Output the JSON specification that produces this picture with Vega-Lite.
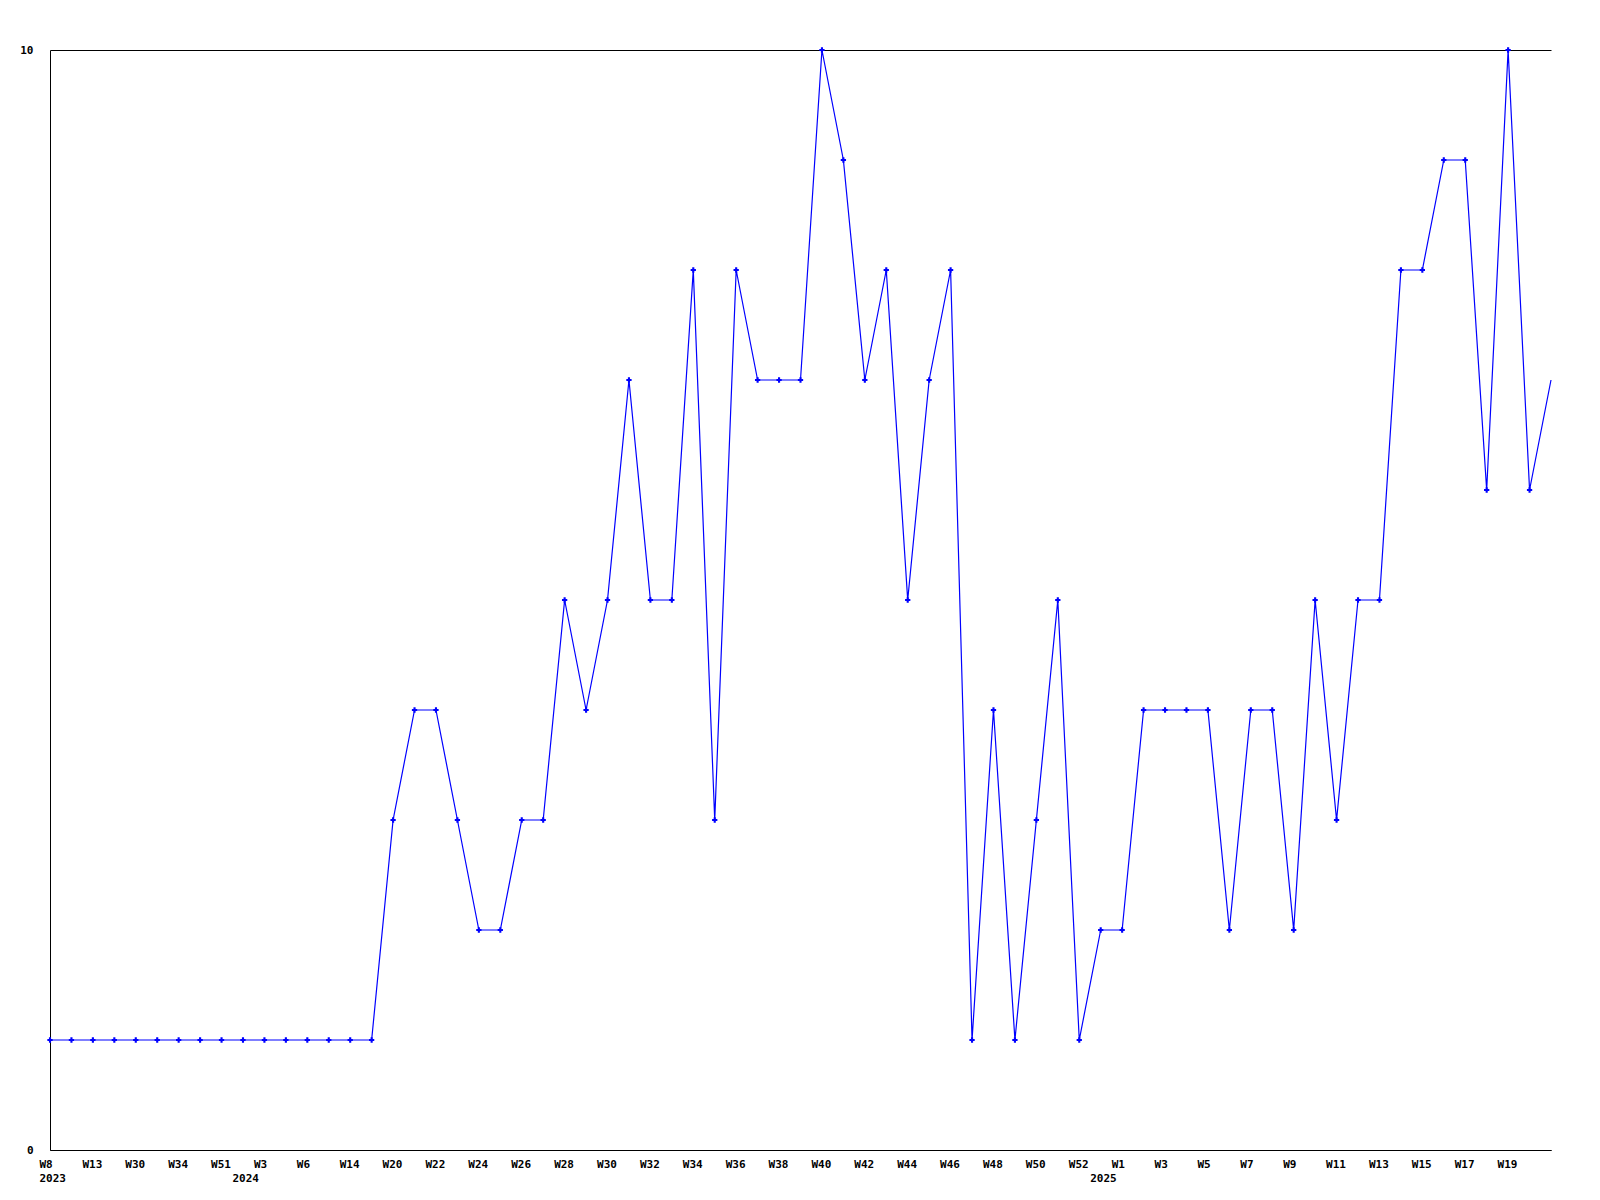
{
  "$schema": "https://vega.github.io/schema/vega-lite/v6.json",
  "autosize": {"type": "none"},
  "padding": {"left": 50, "top": 50, "right": 49, "bottom": 50},
  "width": 1501,
  "height": 1100,
  "background": "white",
  "config": {"view": {"stroke": null}},
  "data": {"values": [
    {"k": "00|W8|2023", "v": 1}, {"k": "01|W10|", "v": 1}, {"k": "02|W13|", "v": 1}, {"k": "03|W21|", "v": 1},
    {"k": "04|W30|", "v": 1}, {"k": "05|W32|", "v": 1}, {"k": "06|W34|", "v": 1}, {"k": "07|W40|", "v": 1},
    {"k": "08|W51|", "v": 1}, {"k": "09|W1|2024", "v": 1}, {"k": "10|W3|", "v": 1}, {"k": "11|W4|", "v": 1},
    {"k": "12|W6|", "v": 1}, {"k": "13|W10|", "v": 1}, {"k": "14|W14|", "v": 1}, {"k": "15|W17|", "v": 1},
    {"k": "16|W20|", "v": 3}, {"k": "17|W21|", "v": 4}, {"k": "18|W22|", "v": 4}, {"k": "19|W23|", "v": 3},
    {"k": "20|W24|", "v": 2}, {"k": "21|W25|", "v": 2}, {"k": "22|W26|", "v": 3}, {"k": "23|W27|", "v": 3},
    {"k": "24|W28|", "v": 5}, {"k": "25|W29|", "v": 4}, {"k": "26|W30|", "v": 5}, {"k": "27|W31|", "v": 7},
    {"k": "28|W32|", "v": 5}, {"k": "29|W33|", "v": 5}, {"k": "30|W34|", "v": 8}, {"k": "31|W35|", "v": 3},
    {"k": "32|W36|", "v": 8}, {"k": "33|W37|", "v": 7}, {"k": "34|W38|", "v": 7}, {"k": "35|W39|", "v": 7},
    {"k": "36|W40|", "v": 10}, {"k": "37|W41|", "v": 9}, {"k": "38|W42|", "v": 7}, {"k": "39|W43|", "v": 8},
    {"k": "40|W44|", "v": 5}, {"k": "41|W45|", "v": 7}, {"k": "42|W46|", "v": 8}, {"k": "43|W47|", "v": 1},
    {"k": "44|W48|", "v": 4}, {"k": "45|W49|", "v": 1}, {"k": "46|W50|", "v": 3}, {"k": "47|W51|", "v": 5},
    {"k": "48|W52|", "v": 1}, {"k": "49|W0|2025", "v": 2}, {"k": "50|W1|", "v": 2}, {"k": "51|W2|", "v": 4},
    {"k": "52|W3|", "v": 4}, {"k": "53|W4|", "v": 4}, {"k": "54|W5|", "v": 4}, {"k": "55|W6|", "v": 2},
    {"k": "56|W7|", "v": 4}, {"k": "57|W8|", "v": 4}, {"k": "58|W9|", "v": 2}, {"k": "59|W10|", "v": 5},
    {"k": "60|W11|", "v": 3}, {"k": "61|W12|", "v": 5}, {"k": "62|W13|", "v": 5}, {"k": "63|W14|", "v": 8},
    {"k": "64|W15|", "v": 8}, {"k": "65|W16|", "v": 9}, {"k": "66|W17|", "v": 9}, {"k": "67|W18|", "v": 6},
    {"k": "68|W19|", "v": 10}, {"k": "69|W20|", "v": 6}, {"k": "70|W21|", "v": 7}
  ]},
  "encoding": {
    "x": {
      "field": "k", "type": "ordinal", "sort": null,
      "scale": {"type": "point", "padding": 0},
      "axis": {
        "title": null, "ticks": false, "grid": false, "labelAngle": 0,
        "domainColor": "black", "domainWidth": 1,
        "labelFont": "DejaVu Sans Mono", "labelFontWeight": "bold", "labelFontSize": 11,
        "labelColor": "black", "labelPadding": 8, "labelBaseline": "top", "labelLineHeight": 14,
        "labelAlign": "left", "labelOffset": -11,
        "labelOverlap": false, "labelBound": false, "labelFlush": false,
        "labelExpr": "[(toNumber(split(datum.value,'|')[0]) % 2 == 0 && toNumber(split(datum.value,'|')[0]) < 70) ? split(datum.value,'|')[1] : '', split(datum.value,'|')[2]]"
      }
    },
    "y": {
      "field": "v", "type": "quantitative",
      "scale": {"domain": [0, 10], "nice": false},
      "axis": {
        "title": null, "values": [0, 10], "ticks": false, "grid": true,
        "gridColor": "black", "gridOpacity": 1, "gridWidth": 1,
        "domainColor": "black", "domainWidth": 1,
        "labelFont": "DejaVu Sans Mono", "labelFontWeight": "bold", "labelFontSize": 11,
        "labelColor": "black", "labelPadding": 17
      }
    }
  },
  "layer": [
    {"mark": {"type": "line", "color": "#0000ff", "strokeWidth": 1.2}},
    {
      "transform": [{"filter": "datum.k != '70|W21|'"}],
      "mark": {"type": "point", "shape": "cross", "size": 28, "filled": true, "color": "#0000ff", "opacity": 1}
    }
  ]
}
